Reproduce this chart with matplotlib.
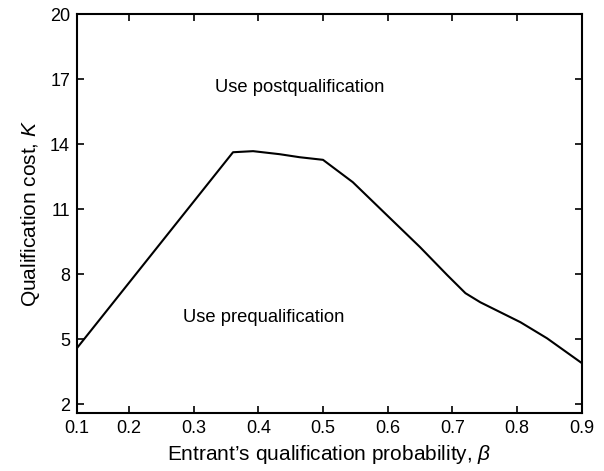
import matplotlib
matplotlib.use('Agg')
import matplotlib.pyplot as plt

plt.rcParams['font.family'] = ['Liberation Sans', 'DejaVu Sans']
plt.rcParams['mathtext.fontset'] = 'custom'
plt.rcParams['mathtext.rm'] = 'Liberation Sans'
plt.rcParams['mathtext.it'] = 'Liberation Sans:italic'

# boundary curve
beta = [0.12, 0.361, 0.392, 0.433, 0.464, 0.50, 0.546, 0.599, 0.650, 0.692, 0.720, 0.743, 0.805, 0.846, 0.90]
cost = [4.6, 13.63, 13.68, 13.54, 13.40, 13.28, 12.25, 10.72, 9.25, 7.96, 7.13, 6.71, 5.79, 5.05, 3.9]

xticks = [0.12, 0.2, 0.3, 0.4, 0.5, 0.6, 0.7, 0.8, 0.9]
xlabels = ['0.1', '0.2', '0.3', '0.4', '0.5', '0.6', '0.7', '0.8', '0.9']
yticks = [2, 5, 8, 11, 14, 17, 20]

fig = plt.figure(figsize=(6.04, 4.71), dpi=100)
ax = fig.add_axes([0.1275, 0.123, 0.836, 0.847])

ax.plot(beta, cost, color='black', lw=1.5)

ax.set_xlim(0.12, 0.9)
ax.set_ylim(1.6, 20)
ax.set_xticks(xticks)
ax.set_xticklabels(xlabels)
ax.set_yticks(yticks)
ax.tick_params(direction='in', top=True, right=True, length=5, width=1.2,
               labelsize=13, pad=5)
ax.tick_params(axis='x', top=True, labeltop=False)
ax.tick_params(axis='y', right=True, labelright=False)
for s in ax.spines.values():
    s.set_linewidth(1.5)

ax.text(0.464, 16.63, 'Use postqualification', ha='center', va='center', fontsize=13.2)
ax.text(0.409, 6.02, 'Use prequalification', ha='center', va='center', fontsize=13.2)

ax.set_xlabel(r"Entrant’s qualification probability, $\beta$", fontsize=15, labelpad=4)
ax.set_ylabel(r"Qualification cost, $K$", fontsize=15, labelpad=6)

fig.savefig('out.png', dpi=100)
